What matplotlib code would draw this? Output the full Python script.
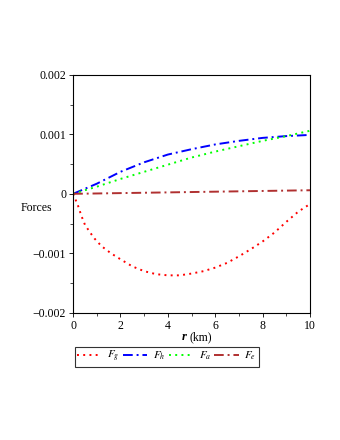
import numpy as np
import matplotlib
matplotlib.use("Agg")
from matplotlib import pyplot as plt
from matplotlib.ticker import MultipleLocator, FixedLocator

plt.rcParams['font.family'] = ['Liberation Serif', 'DejaVu Serif']
plt.rcParams['mathtext.fontset'] = 'stix'

# radius (km) and forces
r_g = [0, 0.2, 0.35, 0.5, 0.7, 0.9, 1.2, 1.6, 2.0, 2.5, 3.0, 3.5, 4.0, 4.5,
       5.0, 5.5, 6.0, 6.5, 7.0, 7.5, 8.0, 8.5, 9.0, 9.5, 10]
F_g = [0, -0.00019, -0.00037, -0.00052, -0.00064, -0.00075, -0.00088, -0.001,
       -0.0011, -0.00122, -0.0013, -0.00135, -0.00137, -0.00137, -0.00134,
       -0.0013, -0.00124, -0.00116, -0.00105, -0.00093, -0.0008, -0.00065,
       -0.00047, -0.0003, -0.00017]

r = [0, 1, 2, 3, 4, 5, 6, 7, 8, 9, 10]
F_h = [0, 0.00017, 0.00037, 0.00053, 0.00066, 0.00075, 0.00083, 0.00089,
       0.00094, 0.00097, 0.00099]
F_a = [0, 0.00012, 0.00025, 0.00037, 0.00049, 0.00061, 0.00071, 0.0008,
       0.00089, 0.00097, 0.00106]
F_e = [0, 0.000006, 0.000012, 0.000018, 0.000024, 0.00003, 0.000036,
       0.000042, 0.000048, 0.000054, 0.00006]

yticks = [-0.002, -0.001, 0, 0.001, 0.002]
ytick_labels = ['\u22120.002', '\u22120.001', '0', '0.001', '0.002']

fig = plt.figure(figsize=(3.4, 4.4), dpi=100)
ax = fig.add_axes([0.215, 0.289, 0.697, 0.541])

ax.plot(r_g, F_g, color='#ff0000', lw=1.4, linestyle=(0, (1, 2.2)), label='$F_g$')
ax.plot(r, F_h, color='#0000ff', lw=1.4, linestyle=(0, (5, 2, 1, 2)), label='$F_h$')
ax.plot(r, F_a, color='#00ff00', lw=1.4, linestyle=(0, (1, 2.2)), label='$F_a$')
ax.plot(r, F_e, color='#b03030', lw=1.4, linestyle=(0, (5, 2, 1, 2)), label='$F_e$')

ax.set_xlim(0, 10)
ax.set_ylim(-0.002, 0.002)
ax.xaxis.set_major_locator(MultipleLocator(2))
ax.xaxis.set_minor_locator(MultipleLocator(1))
ax.yaxis.set_major_locator(FixedLocator(yticks))
ax.yaxis.set_minor_locator(MultipleLocator(0.0005))
ax.set_yticklabels(ytick_labels)
ax.tick_params(which='major', direction='out', length=3, width=0.6, labelsize=8.5, pad=2)
ax.tick_params(which='minor', direction='out', length=2, width=0.5)
for s in ax.spines.values():
    s.set_linewidth(0.8)

fig.text(0.062, 0.527, 'Forces', fontsize=8.5, ha='left', va='center')
fig.text(0.548, 0.233, 'r', fontsize=9, fontweight='bold', style='italic', ha='right', va='center')
fig.text(0.556, 0.233, '(km)', fontsize=8.5, ha='left', va='center')

leg = fig.legend(loc='center left', bbox_to_anchor=(0.22, 0.189), ncol=4,
                 fontsize=8, frameon=True, fancybox=False, edgecolor='black',
                 handlelength=2.2, handletextpad=0.5, columnspacing=0.3,
                 borderpad=0.2, borderaxespad=0)
leg.get_frame().set_linewidth(0.8)

fig.savefig('out.png', dpi=100)
